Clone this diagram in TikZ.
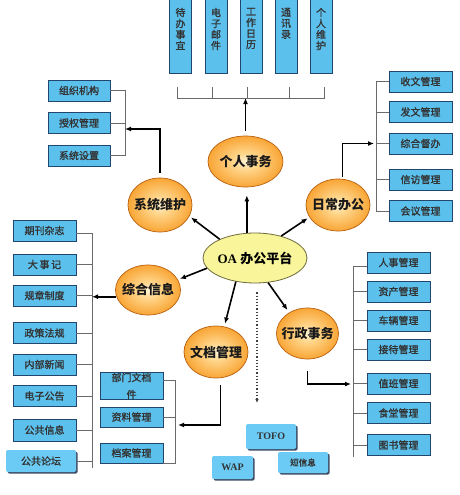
\documentclass[tikz,border=0pt]{standalone}
\usepackage{fontspec}
\setmainfont{Liberation Serif}
\newfontfamily\cjk{Noto Sans CJK SC}
\newfontfamily\cjkmid[FakeBold=1.3]{Noto Sans CJK SC}
\usetikzlibrary{arrows.meta,calc,shadows,shapes.geometric}
\definecolor{boxfill}{HTML}{5BC0EC}
\definecolor{boxline}{HTML}{22466E}
\definecolor{lightbox}{HTML}{6CCBF4}
\definecolor{shadowc}{HTML}{2A3A55}
\definecolor{brkc}{HTML}{6A6A6A}
\definecolor{oafill}{HTML}{F9F59B}
\definecolor{oaline}{HTML}{6E6A3A}
\definecolor{oraA}{HTML}{FFF4D6}
\definecolor{oraB}{HTML}{FFD68C}
\definecolor{oraC}{HTML}{F9A83A}
\definecolor{oraD}{HTML}{F28C18}
\definecolor{oraE}{HTML}{E07810}
\definecolor{oraline}{HTML}{B8600E}
\pgfdeclareradialshading{oball}{\pgfpoint{0bp}{0bp}}{color(0bp)=(oraA); color(8bp)=(oraB); color(24bp)=(oraC); color(40bp)=(oraD); color(50bp)=(oraE)}
\newcommand{\mystack}[1]{\parbox[c][72pt][t]{12pt}{\centering\vspace*{9pt}#1}}
\tikzset{
  box/.style={draw=boxline, line width=0.9pt, fill=boxfill, minimum width=63pt, minimum height=21pt, inner sep=0pt, font=\cjkmid\fontsize{10}{12}\selectfont, text=black!80, align=center},
  vbox/.style={box, minimum width=22pt, minimum height=77pt, font=\cjkmid\fontsize{10}{11}\selectfont},
  lbox/.style={fill=lightbox, rounded corners=2pt, inner sep=0pt, text=black!80, drop shadow={shadow xshift=1.6pt, shadow yshift=-1.6pt, fill=shadowc, opacity=0.9}},
  ell/.style={ellipse, shading=oball, draw=oraline, line width=0.7pt, inner sep=0pt, font=\cjk\bfseries\fontsize{13}{15}\selectfont, text=black!90},
  oaell/.style={ellipse, fill=oafill, draw=oaline, line width=0.8pt, inner sep=0pt, minimum width=104pt, minimum height=50pt, font=\bfseries\fontsize{13}{15}\selectfont},
  arr/.style={-{Latex[length=6pt,width=5pt]}, line width=1.6pt, black},
  brkline/.style={draw=brkc, line width=1pt},
  dots/.style={dotted, line width=1.2pt, black!75, -{Latex[length=4pt,width=3.5pt]}}
}
\begin{document}
\begin{tikzpicture}[x=1pt,y=-1pt]
\fill[white] (0,0) rectangle (459,495);
\useasboundingbox (0,0) rectangle (459,495);

% ---- ellipses
\node[oaell] (oa) at (255,258) {\makebox[0pt]{OA {\cjk\bfseries 办公平台}}};
\node[ell, minimum width=75pt, minimum height=51pt] (grsw) at (245.5,161.5) {\makebox[0pt]{个人事务}};
\node[ell, minimum width=64pt, minimum height=54pt] (xtwh) at (160,205) {\makebox[0pt]{系统维护}};
\node[ell, minimum width=64pt, minimum height=52pt] (rcbg) at (338,205) {\makebox[0pt]{日常办公}};
\node[ell, minimum width=65pt, minimum height=50pt] (zhxx) at (148,290) {\makebox[0pt]{综合信息}};
\node[ell, minimum width=64pt, minimum height=52pt] (wdgl) at (216,352) {\makebox[0pt]{文档管理}};
\node[ell, minimum width=62pt, minimum height=51pt] (xzsw) at (307.5,333.5) {\makebox[0pt]{行政事务}};

% ---- central arrows
\draw[arr, shorten >=8pt] (oa.108) -- (oa.108 |- grsw.south);
\draw[arr, shorten >=2pt] (oa.152) -- (xtwh.-21);
\draw[arr, shorten >=2pt] (oa.40) -- (rcbg.203);
\draw[arr, shorten >=2pt] (oa.192) -- (zhxx.19);
\draw[arr, shorten >=3pt] (oa.231) -- (wdgl.72);
\draw[arr, shorten >=3pt] (oa.-62) -- (xzsw.131);
\coordinate (dotend) at (257,403);
\draw[dots, shorten <=9pt] (oa.south -| dotend) -- (dotend);

% ---- top group
\node[vbox, anchor=north] (dbsy) at (180.5,-4) {\mystack{待\\办\\事\\宜}};
\node[vbox, anchor=north] (dzyj) at (216,-4) {\mystack{电\\子\\邮\\件}};
\node[vbox, anchor=north] (gzrl) at (251,-4) {\mystack{工\\作\\日\\历}};
\node[vbox, anchor=north] (txl) at (286,-4) {\mystack{通\\讯\\录}};
\node[vbox, anchor=north] (grwh) at (321,-4) {\mystack{个\\人\\维\\护}};
\coordinate (tk1) at (177,87);
\coordinate (tk2) at (212,87);
\coordinate (tk3) at (247,87);
\coordinate (tk4) at (289,87);
\coordinate (tk5) at (324,87);
\coordinate (bar) at (0,98);
\draw[brkline] (tk1) -- (tk1 |- bar) -- (tk5 |- bar) -- (tk5);
\foreach \t in {tk2,tk3,tk4} \draw[brkline] (\t) -- (\t |- bar);
\draw[arr, shorten <=5pt] (grsw.north) -- (grsw.north |- bar);

% ---- system maintenance group
\node[box, minimum width=62pt] (zzjg) at (79,90.5) {组织机构};
\node[box, minimum width=62pt] (sqgl) at (79,123) {授权管理};
\node[box, minimum width=62pt] (xtsz) at (79,155.5) {系统设置};
\coordinate (xtj) at (125,129);
\draw[brkline] (zzjg.east) -- (zzjg.east -| xtj) -- (xtsz.east -| xtj) -- (xtsz.east);
\draw[brkline] (sqgl.east) -- (sqgl.east -| xtj);
\draw[arr, shorten <=5pt] (xtwh.north) -- (xtwh.north |- xtj) -- (xtj);

% ---- daily office group
\node[box] (swgl) at (420.5,81.5) {收文管理};
\node[box] (fwgl) at (420.5,112) {发文管理};
\node[box] (zhdb) at (420.5,143.5) {综合督办};
\node[box] (xfgl) at (420.5,179.5) {信访管理};
\node[box] (hygl) at (420.5,211) {会议管理};
\coordinate (rcx) at (376,0);
\draw[brkline] (swgl.west) -- (swgl.west -| rcx) -- (hygl.west -| rcx) -- (hygl.west);
\foreach \b in {fwgl,zhdb,xfgl} \draw[brkline] (\b.west) -- (\b.west -| rcx);
\draw[arr, shorten <=2pt, shorten >=2pt] (rcbg.80) -- (rcbg.80 |- zhdb.west) -- (zhdb.west -| rcx);

% ---- general information group
\node[box] (qkzz) at (44.5,230.5) {期刊杂志};
\node[box] (dsj) at (44.5,264.5) {大\,事\,记};
\node[box] (gzzd) at (44.5,295.5) {规章制度};
\node[box] (zcfg) at (44.5,333) {政策法规};
\node[box] (nbxw) at (44.5,364.5) {内部新闻};
\node[box] (dzgg) at (44.5,396) {电子公告};
\node[box, minimum height=22pt] (ggxx) at (44.5,430) {公共信息};
\node[lbox, minimum width=70pt, minimum height=22pt, font=\cjkmid\fontsize{10}{12}\selectfont] (gglt) at (41,461) {公共论坛};
\coordinate (ltop) at (92,233);
\coordinate (lbot) at (92,468);
\draw[brkline] (qkzz.east |- ltop) -- (ltop) -- (lbot);
\foreach \b in {dsj,gzzd,zcfg,nbxw,dzgg,ggxx,gglt} \draw[brkline] (\b.east) -- (\b.east -| ltop);
\draw[arr] (zhxx.192) -- (zhxx.192 -| ltop);

% ---- document management group
\node[box, minimum height=26pt, font=\cjkmid\fontsize{10}{17}\selectfont] (bmwd) at (131.5,386) {部门文档\\件};
\node[box, minimum height=20pt] (zlgl) at (131.5,417) {资料管理};
\node[box, minimum height=20pt] (dagl) at (131.5,453) {档案管理};
\coordinate (wdtop) at (175,380);
\coordinate (wdbot) at (175,463);
\coordinate (wdj) at (175,425);
\draw[brkline] (bmwd.east |- wdtop) -- (wdtop) -- (wdbot) -- (dagl.east |- wdbot);
\draw[brkline] (zlgl.east) -- (zlgl.east -| wdtop);
\draw[arr, shorten <=7pt, shorten >=3pt] (wdgl.-80) -- (wdgl.-80 |- wdj) -- (wdj);

% ---- administration group
\node[box] (rsgl) at (398.5,262.5) {人事管理};
\node[box] (zcgl) at (398.5,291.5) {资产管理};
\node[box] (clgl) at (398.5,320.5) {车辆管理};
\node[box] (jdgl) at (398.5,349.5) {接待管理};
\node[box] (zbgl) at (398.5,383.5) {值班管理};
\node[box] (stgl) at (398.5,413) {食堂管理};
\node[box] (tsgl) at (398.5,445) {图书管理};
\coordinate (xztop) at (353,266);
\coordinate (xzbot) at (353,457);
\coordinate (xzj) at (353,384);
\draw[brkline] (rsgl.west |- xztop) -- (xztop) -- (xzbot);
\foreach \b in {zcgl,clgl,jdgl,zbgl,stgl,tsgl} \draw[brkline] (\b.west) -- (\b.west -| xztop);
\draw[arr, shorten <=12pt, shorten >=2pt] (xzsw.south) -- (xzsw.south |- xzj) -- (xzj);

% ---- channel boxes
\node[lbox, minimum width=50pt, minimum height=25pt, font=\bfseries\fontsize{10}{12}\selectfont] (tofo) at (271,436.5) {TOFO};
\node[lbox, minimum width=50pt, minimum height=21pt, font=\cjkmid\fontsize{8.5}{10}\selectfont] (dxx) at (303,462.5) {短信息};
\node[lbox, minimum width=41pt, minimum height=23pt, font=\bfseries\fontsize{10}{12}\selectfont] (wap) at (232.5,467.5) {WAP};
\end{tikzpicture}
\end{document}
